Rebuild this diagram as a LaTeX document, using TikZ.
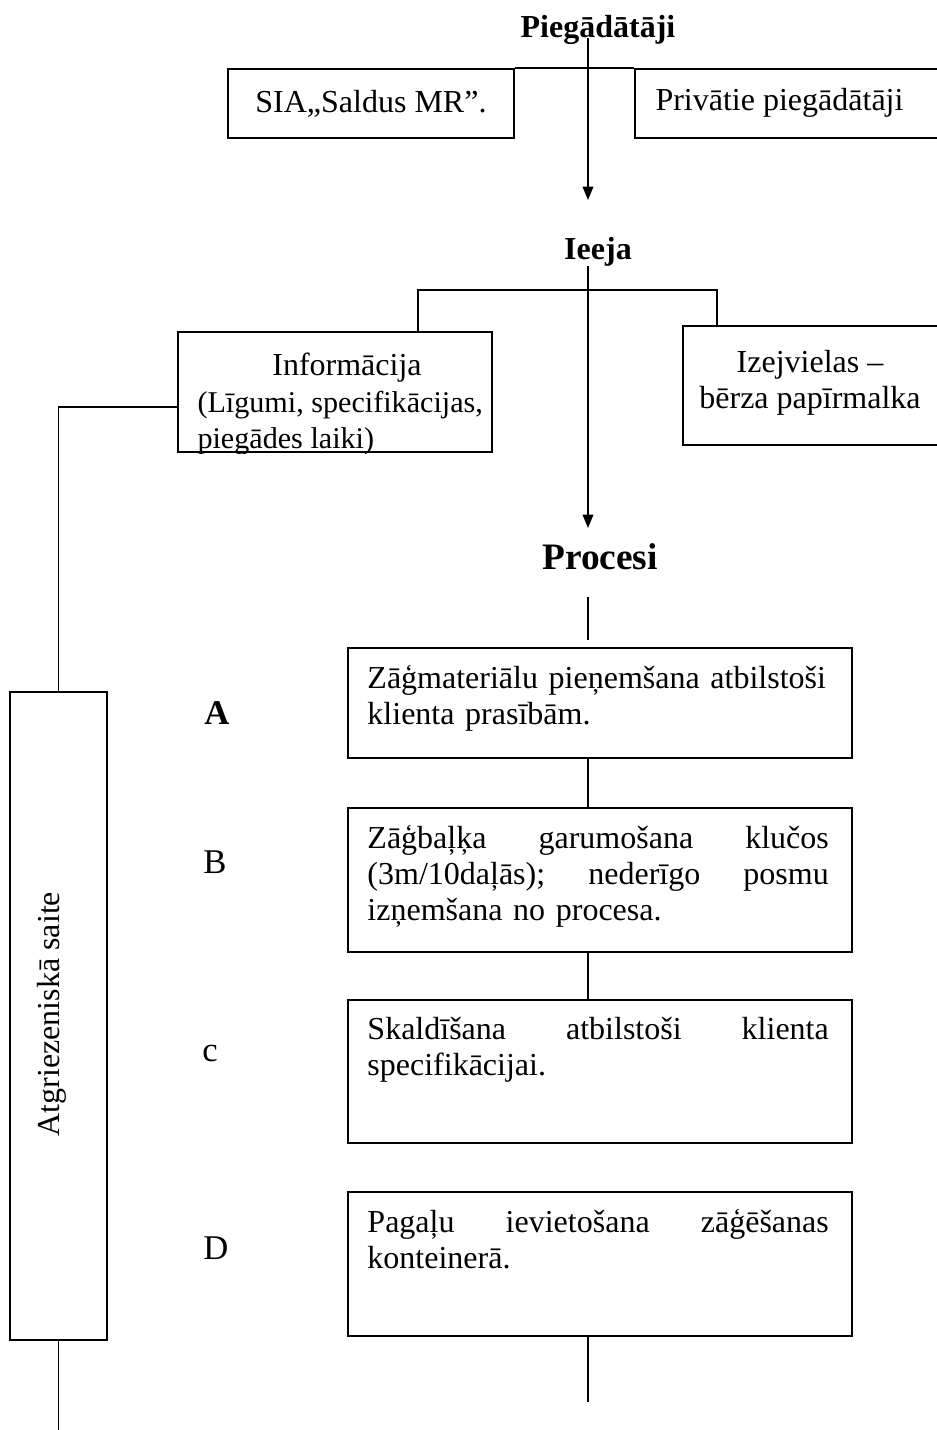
\documentclass[tikz,border=0pt]{standalone}
\usepackage{fontspec}
\setmainfont{Liberation Serif}
\usetikzlibrary{arrows.meta,fit,positioning}
\tikzset{
  flowBox/.style={draw, line width=0.8pt, inner sep=0pt},
  flowText/.style={font=\fontsize{12}{13.5}\selectfont, inner sep=0pt},
  smallText/.style={font=\fontsize{11.3}{13.5}\selectfont, inner sep=0pt},
  procText/.style={flowText, anchor=north west, text width=173pt, align=left},
  headLabel/.style={font=\fontsize{12}{14}\selectfont\bfseries, inner sep=1pt},
  stepLabel/.style={font=\fontsize{13}{15}\selectfont, inner sep=0pt},
  flowLine/.style={line width=0.6pt},
  flowArrow/.style={flowLine, -{Triangle[length=5pt, width=4pt]}}
}

\begin{document}
\begin{tikzpicture}[x=0.375pt, y=-0.375pt]
  \useasboundingbox (0,0) rectangle (937,1430);
  \clip (0,0) rectangle (937,1430);

  % suppliers
  \node[headLabel] (piegad) at (598,30) {Piegādātāji};
  \node[flowBox, fit={(228,69) (514,138)}] (sia) {};
  \node[flowText] (siaText) at (sia) {SIA„Saldus MR”.};
  \node[flowBox, fit={(635,69) (960,138)}] (priv) {};
  \node[flowText, anchor=west] (privText) at (655,103) {Privātie piegādātāji};
  \draw[flowLine] (sia.north east) -- (priv.north west);
  \coordinate (inStart) at (588,38);
  \coordinate (inTip) at (588,200);
  \draw[flowArrow] (inStart) -- (inTip);

  % input
  \node[headLabel] (ieeja) at (598,252) {Ieeja};
  \node[flowBox, fit={(178,332) (492,452)}] (info) {};
  \node[flowBox, fit={(683,326) (960,445)}] (raw) {};
  \coordinate (branchL) at (418,290);
  \coordinate (branchR) at (717,290);
  \coordinate (ieejaOut) at (588,266);
  \draw[flowLine] (info.north -| branchL) -- (branchL) -- (branchR) -- (raw.north -| branchR);
  \begin{scope}
    \clip (info.south west) rectangle (info.north east);
    \node[flowText, anchor=base] (infoTitle) at (347,375) {Informācija};
    \node[smallText, anchor=base west] (infoLine1) at (197,412) {(Līgumi, specifikācijas,};
    \node[smallText, anchor=base west] (infoLine2) at (197,448) {piegādes laiki)};
  \end{scope}
  \node[flowText, anchor=north, align=center] (rawText) at (810,350) {Izejvielas –\\bērza papīrmalka};
  \coordinate (procTip) at (588,528);
  \draw[flowArrow] (ieejaOut) -- (procTip);

  % processes
  \node[headLabel, font=\fontsize{14}{16}\selectfont\bfseries] (procesi) at (600,557) {Procesi};
  \coordinate (procTop) at (588,597);
  \coordinate (procEnd) at (588,640);
  \draw[flowLine] (procTop) -- (procEnd);

  \node[flowBox, fit={(348,648) (852,758)}] (boxA) {};
  \node[flowBox, fit={(348,808) (852,952)}] (boxB) {};
  \node[flowBox, fit={(348,1000) (852,1143)}] (boxC) {};
  \node[flowBox, fit={(348,1192) (852,1336)}] (boxD) {};

  \node[procText] (textA) at ([xshift=7.5pt, yshift=-6.8pt]boxA.north west)
    {Zāģmateriālu pieņemšana atbilstoši\\klienta prasībām.};
  \node[procText] (textB) at ([xshift=7.5pt, yshift=-6.8pt]boxB.north west)
    {Zāģbaļķa\hfill garumošana\hfill klučos\\(3m/10daļās);\hfill nederīgo\hfill posmu\\izņemšana no procesa.};
  \node[procText] (textC) at ([xshift=7.5pt, yshift=-6.8pt]boxC.north west)
    {Skaldīšana\hfill atbilstoši\hfill klienta\\specifikācijai.};
  \node[procText] (textD) at ([xshift=7.5pt, yshift=-6.8pt]boxD.north west)
    {Pagaļu\hfill ievietošana\hfill zāģēšanas\\konteinerā.};

  \node[stepLabel, font=\fontsize{13}{15}\selectfont\bfseries] (labA) at (217,713) {A};
  \node[stepLabel] (labB) at (215,862) {B};
  \node[stepLabel] (labC) at (210,1053) {c};
  \node[stepLabel] (labD) at (216,1248) {D};

  \draw[flowLine] (boxA.south -| procEnd) -- (boxB.north -| procEnd);
  \draw[flowLine] (boxB.south -| procEnd) -- (boxC.north -| procEnd);
  \coordinate (procOut) at (588,1402);
  \draw[flowLine] (boxD.south -| procEnd) -- (procOut);

  % feedback
  \node[flowBox, fit={(10,692) (107,1340)}] (fbBox) {};
  \node[rotate=90, font=\fontsize{12}{14}\selectfont, inner sep=0pt] (fbText) at (52,1014) {Atgriezeniskā saite};
  \coordinate (fbEnd) at (58.5,1430);
  \draw[flowLine] (info.west |- 0,407) -| (fbBox.north);
  \draw[flowLine] (fbBox.south) -- (fbEnd);
\end{tikzpicture}
\end{document}
